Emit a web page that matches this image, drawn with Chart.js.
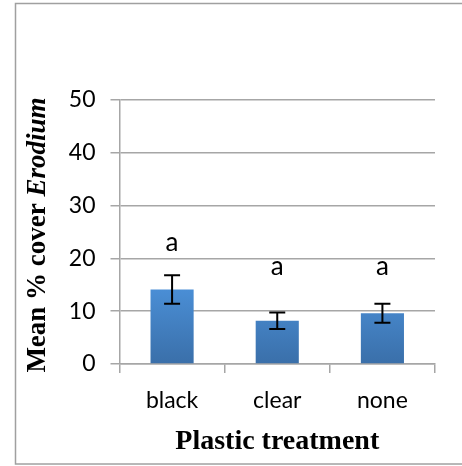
<!DOCTYPE html>
<html>
<head>
<meta charset="utf-8">
<script src="https://cdn.jsdelivr.net/npm/chart.js@4/dist/chart.umd.min.js"></script>
<style>
html,body{margin:0;padding:0;background:#fff;}
#wrap{position:relative;width:462px;height:466px;}
</style>
</head>
<body>
<div id="wrap"><canvas id="c" width="462" height="466"></canvas></div>
<script>
const categories = ["black", "clear", "none"];
const meanCover = [14.1, 8.2, 9.6];
const errorSE = [2.7, 1.55, 1.8];
const sigLetters = ["a", "a", "a"];
const letterLevel = [23.0, 18.5, 18.5];
const yTicks = [0, 10, 20, 30, 40, 50];
const yTitleMain = "Mean % cover ";
const yTitleItalic = "Erodium";
const xTitle = "Plastic treatment";

const tickFont = {family: "Lato, 'Open Sans', sans-serif", size: 23};

const framePlugin = {
  id: 'frame',
  beforeDraw(chart) {
    const ctx = chart.ctx;
    ctx.save();
    ctx.fillStyle = '#fff';
    ctx.fillRect(0, 0, chart.width, chart.height);
    ctx.strokeStyle = '#a0a0a0';
    ctx.lineWidth = 1.5;
    ctx.strokeRect(15.5, 3.5, 460, 460.5);
    ctx.restore();
  }
};

const extrasPlugin = {
  id: 'extras',
  afterDatasetsDraw(chart) {
    const ctx = chart.ctx;
    const x = chart.scales.x, y = chart.scales.y;
    ctx.save();
    ctx.strokeStyle = '#000';
    ctx.lineWidth = 2;
    meanCover.forEach((v, i) => {
      const px = x.getPixelForValue(i);
      const top = y.getPixelForValue(v + errorSE[i]);
      const bot = y.getPixelForValue(v - errorSE[i]);
      ctx.beginPath();
      ctx.moveTo(px, top); ctx.lineTo(px, bot);
      ctx.moveTo(px - 8, top); ctx.lineTo(px + 8, top);
      ctx.moveTo(px - 8, bot); ctx.lineTo(px + 8, bot);
      ctx.stroke();
    });
    ctx.fillStyle = '#000';
    ctx.font = "26px Lato, 'Open Sans', sans-serif";
    ctx.textAlign = 'center';
    ctx.textBaseline = 'middle';
    sigLetters.forEach((t, i) => {
      ctx.fillText(t, x.getPixelForValue(i), y.getPixelForValue(letterLevel[i]));
    });
    const cx = 38, cy = (y.top + y.bottom) / 2 + 3;
    ctx.translate(cx, cy);
    ctx.rotate(-Math.PI / 2);
    const f1 = "bold 27px 'Liberation Serif', 'DejaVu Serif', serif";
    const f2 = "italic bold 27px 'Liberation Serif', 'DejaVu Serif', serif";
    ctx.font = f1; const w1 = ctx.measureText(yTitleMain).width;
    ctx.font = f2; const w2 = ctx.measureText(yTitleItalic).width;
    const start = -(w1 + w2) / 2;
    ctx.textAlign = 'left';
    ctx.font = f1; ctx.fillText(yTitleMain, start, 0);
    ctx.font = f2; ctx.fillText(yTitleItalic, start + w1, 0);
    ctx.restore();
  }
};

const ctx = document.getElementById('c').getContext('2d');
new Chart(ctx, {
  type: 'bar',
  data: {
    labels: categories,
    datasets: [{
      data: meanCover,
      backgroundColor(context) {
        const chart = context.chart;
        const area = chart.chartArea;
        if (!area) return '#4a8fd6';
        const g = chart.ctx.createLinearGradient(0, chart.scales.y.getPixelForValue(15), 0, area.bottom);
        g.addColorStop(0, '#4b90d8');
        g.addColorStop(1, '#3a6fa9');
        return g;
      },
      borderWidth: 0,
      barPercentage: 0.41,
      categoryPercentage: 1.0
    }]
  },
  options: {
    responsive: false,
    animation: false,
    events: [],
    layout: {padding: {top: 100, right: 27, left: 0, bottom: 0}},
    plugins: {legend: {display: false}, tooltip: {enabled: false}},
    scales: {
      x: {
        grid: {display: true, drawOnChartArea: false, color: '#a6a6a6', lineWidth: 1.5, tickLength: 9, offset: true},
        border: {display: true, color: '#a6a6a6', width: 1.5},
        ticks: {font: tickFont, color: '#000', padding: 14},
        title: {display: true, text: xTitle, color: '#000', font: {family: "'Liberation Serif', 'DejaVu Serif', serif", size: 28, weight: 'bold'}, padding: {top: 0, bottom: 7}},
        afterFit(scale) { scale.height = 102; }
      },
      y: {
        min: 0, max: 50,
        afterBuildTicks(scale) { scale.ticks = yTicks.map(v => ({value: v})); },
        grid: {color: '#a6a6a6', lineWidth: 1.5, tickLength: 9},
        border: {display: true, color: '#a6a6a6', width: 1.5},
        ticks: {font: tickFont, color: '#000', padding: 15},
        afterFit(scale) { scale.width = 119.5; }
      }
    }
  },
  plugins: [framePlugin, extrasPlugin]
});
</script>
</body>
</html>
